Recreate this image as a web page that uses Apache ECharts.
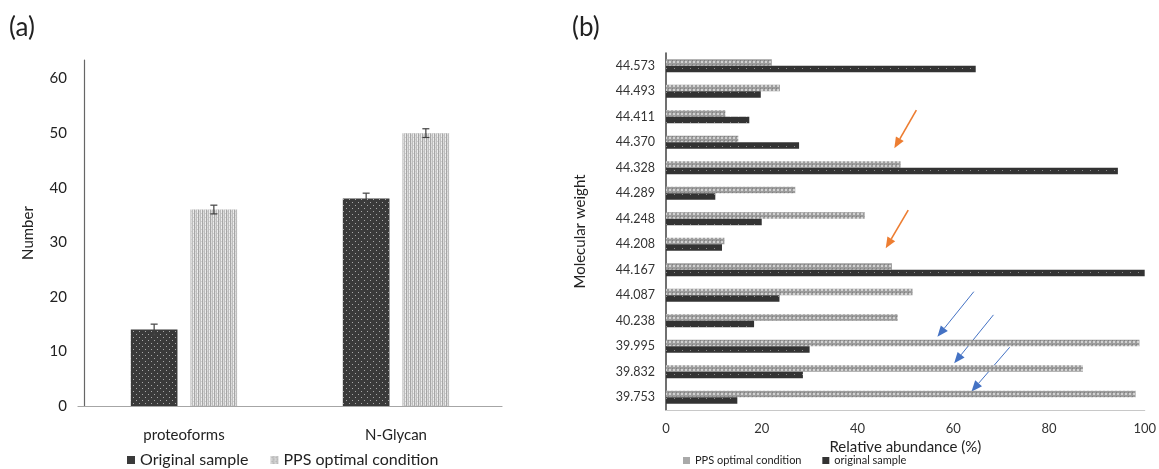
<!DOCTYPE html>
<html>
<head>
<meta charset="utf-8">
<script src="https://cdn.jsdelivr.net/npm/echarts@6/dist/echarts.min.js"></script>
<style>
  html, body { margin: 0; padding: 0; background: #fff; }
  #chart { width: 1159px; height: 469px; }
</style>
</head>
<body>
<div id="chart"></div>
<script>
// ---- (a) counts per analysis ----
const groupCategories = ['proteoforms', 'N-Glycan'];
const originalCounts = [14, 38];
const originalErrors = [1, 1];
const ppsCounts = [36, 50];
const ppsErrors = [0.8, 0.8];
const countTicks = [0, 10, 20, 30, 40, 50, 60];

// ---- (b) relative abundance per molecular weight (bottom to top) ----
const weightCategories = ['39.753', '39.832', '39.995', '40.238', '44.087', '44.167', '44.208',
  '44.248', '44.289', '44.328', '44.370', '44.411', '44.493', '44.573'];
const ppsAbundance = [98.1, 87.1, 98.9, 48.4, 51.5, 47.2, 12.2, 41.5, 27.0, 49.0, 15.1, 12.4, 23.8, 22.1];
const originalAbundance = [14.9, 28.6, 30.0, 18.4, 23.7, 100, 11.7, 20.0, 10.3, 94.4, 27.8, 17.4, 19.8, 64.7];
const abundanceTicks = [0, 20, 40, 60, 80, 100];

// annotation arrows in (abundance, category position) units: [fromX, fromY, toX, toY]
const orangeArrows = [[52.3, 11.26, 47.7, 9.76], [50.6, 7.34, 45.9, 5.84]];
const blueArrows = [[64.3, 4.14, 56.7, 2.37], [68.4, 3.23, 60.2, 1.33], [71.8, 1.96, 63.8, 0.22]];

const FONT = 'Lato, "Open Sans", sans-serif';

function makePattern(w, h, draw) {
  const c = document.createElement('canvas');
  c.width = w; c.height = h;
  const ctx = c.getContext('2d');
  draw(ctx);
  return { image: c, repeat: 'repeat' };
}
// dark fill with light dots
const darkDots = makePattern(6, 6, ctx => {
  ctx.fillStyle = '#3a3a3a'; ctx.fillRect(0, 0, 6, 6);
  ctx.fillStyle = '#a8a8a8'; ctx.fillRect(1, 1, 1, 1); ctx.fillRect(4, 4, 1, 1);
});
// light vertical stripes
const lightStripes = makePattern(4, 4, ctx => {
  const cols = ['#bdbdbd', '#ececec', '#a6a6a6', '#dcdcdc'];
  cols.forEach((col, i) => { ctx.fillStyle = col; ctx.fillRect(i, 0, 1, 4); });
  ctx.fillStyle = '#cfcfcf'; ctx.fillRect(1, 1, 1, 1); ctx.fillRect(3, 3, 1, 1);
});
// grey checks for horizontal bars
const greyChecks = makePattern(4, 4, ctx => {
  ctx.fillStyle = '#9c9c9c'; ctx.fillRect(0, 0, 4, 4);
  ctx.fillStyle = '#d2d2d2'; ctx.fillRect(1, 1, 2, 2);
  ctx.fillStyle = '#808080'; ctx.fillRect(0, 0, 1, 1);
});
const darkDotsH = makePattern(8, 6, ctx => {
  ctx.fillStyle = '#333333'; ctx.fillRect(0, 0, 8, 6);
  ctx.fillStyle = '#8a8a8a'; ctx.fillRect(2, 2, 1, 1);
});

const chart = echarts.init(document.getElementById('chart'), null, { renderer: 'canvas' });

const BAR_W = 0.22, BAR_GAP = 0.28;

function errorBarSeries(name, counts, errs, side) {
  return {
    type: 'custom', name: name + ' error', xAxisIndex: 0, yAxisIndex: 0, z: 5,
    data: counts.map((v, i) => [i, v, errs[i]]),
    renderItem(params, api) {
      const i = api.value(0), v = api.value(1), e = api.value(2);
      const band = api.size([1, 0])[0];
      const off = side * band * BAR_W * (1 + BAR_GAP) / 2;
      const top = api.coord([i, v + e]);
      const bot = api.coord([i, v - e]);
      const x = top[0] + off;
      const cap = 3.5;
      const st = { stroke: '#404040', lineWidth: 1.2 };
      return {
        type: 'group', children: [
          { type: 'line', shape: { x1: x, y1: top[1], x2: x, y2: bot[1] }, style: st },
          { type: 'line', shape: { x1: x - cap, y1: top[1], x2: x + cap, y2: top[1] }, style: st },
          { type: 'line', shape: { x1: x - cap, y1: bot[1], x2: x + cap, y2: bot[1] }, style: st }
        ]
      };
    }
  };
}

const option = {
  animation: false,
  backgroundColor: '#ffffff',
  textStyle: { fontFamily: FONT },
  title: [
    { text: '(a)', left: 9, top: 15, padding: 0, textStyle: { fontFamily: FONT, fontSize: 26, fontWeight: 'normal', color: '#222' } },
    { text: '(b)', left: 572, top: 15, padding: 0, textStyle: { fontFamily: FONT, fontSize: 26, fontWeight: 'normal', color: '#222' } }
  ],
  legend: [
    {
      left: 127, top: 452, padding: 0, itemWidth: 8, itemHeight: 8, itemGap: 22, icon: 'rect',
      textStyle: { fontFamily: FONT, fontSize: 16, color: '#222' },
      selectedMode: false,
      data: [
        { name: 'Original sample', itemStyle: { color: '#3a3a3a' } },
        { name: 'PPS optimal condition', itemStyle: { color: lightStripes } }
      ]
    },
    {
      left: 683, top: 455, padding: 0, itemWidth: 7, itemHeight: 7, itemGap: 18, icon: 'rect',
      textStyle: { fontFamily: FONT, fontSize: 11, color: '#222' },
      selectedMode: false,
      data: [
        { name: 'PPS optimal condition ', itemStyle: { color: '#a9a9a9' } },
        { name: 'original sample', itemStyle: { color: '#333333' } }
      ]
    }
  ],
  grid: [
    { left: 78, right: 657, top: 60, bottom: 63 },
    { left: 666, right: 11, top: 53, bottom: 59 }
  ],
  xAxis: [
    {
      type: 'category', gridIndex: 0, data: groupCategories,
      axisLine: { lineStyle: { color: '#a6a6a6', width: 1.2 } },
      axisTick: { show: false },
      axisLabel: { fontFamily: FONT, fontSize: 15, color: '#222', margin: 22 }
    },
    {
      type: 'value', gridIndex: 1, min: abundanceTicks[0], max: abundanceTicks[abundanceTicks.length - 1], interval: 20,
      axisLine: { show: true, lineStyle: { color: '#c8c8c8', width: 1.2 } },
      axisTick: { show: false },
      splitLine: { show: false },
      axisLabel: { fontFamily: FONT, fontSize: 13, color: '#333', margin: 12 },
      name: 'Relative abundance (%)', nameLocation: 'middle', nameGap: 29,
      nameTextStyle: { fontFamily: FONT, fontSize: 15, color: '#222' }
    }
  ],
  yAxis: [
    {
      type: 'value', gridIndex: 0, min: countTicks[0], max: 63.4, interval: 10, offset: -6,
      axisLine: { show: true, lineStyle: { color: '#666', width: 1.2 } },
      axisTick: { show: false },
      splitLine: { show: false },
      axisLabel: { fontFamily: FONT, fontSize: 15, color: '#222', margin: 17, showMaxLabel: false,
        formatter: v => countTicks.includes(v) ? String(v) : '' },
      name: 'Number', nameLocation: 'middle', nameGap: 48, nameRotate: 90,
      nameTextStyle: { fontFamily: FONT, fontSize: 15, color: '#222' }
    },
    {
      type: 'category', gridIndex: 1, data: weightCategories,
      axisLine: { lineStyle: { color: '#404040', width: 1.5 } },
      axisTick: { show: false },
      axisLabel: { fontFamily: FONT, fontSize: 12.5, color: '#333', margin: 11 },
      name: 'Molecular weight', nameLocation: 'middle', nameGap: 78, nameRotate: 90,
      nameTextStyle: { fontFamily: FONT, fontSize: 15, color: '#222' }
    }
  ],
  series: [
    {
      type: 'bar', name: 'Original sample', xAxisIndex: 0, yAxisIndex: 0,
      data: originalCounts, barWidth: (BAR_W * 100) + '%', barGap: (BAR_GAP * 100) + '%',
      itemStyle: { color: darkDots }
    },
    {
      type: 'bar', name: 'PPS optimal condition', xAxisIndex: 0, yAxisIndex: 0,
      data: ppsCounts, barWidth: (BAR_W * 100) + '%', barGap: (BAR_GAP * 100) + '%',
      itemStyle: { color: lightStripes }
    },
    errorBarSeries('Original sample', originalCounts, originalErrors, -1),
    errorBarSeries('PPS optimal condition', ppsCounts, ppsErrors, 1),
    // horizontal bars: first series sits on top within each weight
    {
      type: 'bar', name: 'PPS optimal condition ', xAxisIndex: 1, yAxisIndex: 1,
      data: ppsAbundance, barWidth: 6.4, barGap: '0%',
      itemStyle: { color: greyChecks }
    },
    {
      type: 'bar', name: 'original sample', xAxisIndex: 1, yAxisIndex: 1,
      data: originalAbundance, barWidth: 6.4, barGap: '0%',
      itemStyle: { color: darkDotsH }
    }
  ]
};

chart.setOption(option);

// arrows pointing at the highlighted weights
function toPixel(x, yPos) {
  const p0 = chart.convertToPixel({ xAxisIndex: 1, yAxisIndex: 1 }, [x, 0]);
  const p1 = chart.convertToPixel({ xAxisIndex: 1, yAxisIndex: 1 }, [x, 1]);
  return [p0[0], p0[1] + (p1[1] - p0[1]) * yPos];
}
function arrow(a, color, width) {
  const s = toPixel(a[0], a[1]);
  const t = toPixel(a[2], a[3]);
  const dx = t[0] - s[0], dy = t[1] - s[1];
  const len = Math.hypot(dx, dy);
  const ux = dx / len, uy = dy / len;
  const head = 11, half = 4.5;
  const bx = t[0] - ux * head, by = t[1] - uy * head;
  return {
    type: 'group', z: 100, children: [
      { type: 'line', shape: { x1: s[0], y1: s[1], x2: bx, y2: by }, style: { stroke: color, lineWidth: width } },
      { type: 'polygon', shape: { points: [t, [bx - uy * half, by + ux * half], [bx + uy * half, by - ux * half]] },
        style: { fill: color } }
    ]
  };
}
chart.setOption({
  graphic: [
    ...orangeArrows.map(a => arrow(a, '#ED7D31', 1.6)),
    ...blueArrows.map(a => arrow(a, '#4472C4', 1.0))
  ]
});
</script>
</body>
</html>
